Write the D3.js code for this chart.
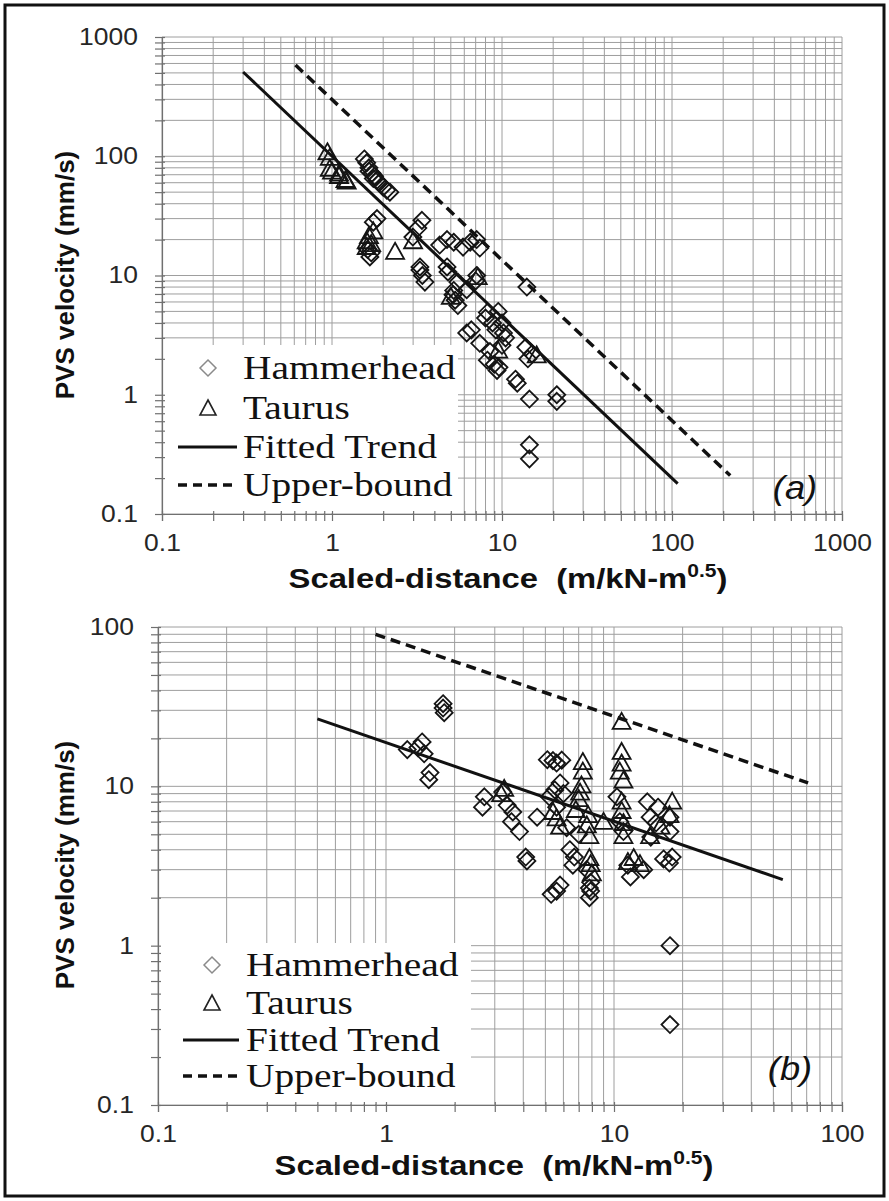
<!DOCTYPE html>
<html lang="en">
<head>
<meta charset="UTF-8">
<title>PVS velocity vs scaled distance</title>
<script src="https://d3js.org/d3.v7.min.js"></script>
<style>
  body { margin: 0; background: #fff; }
  .grid line { stroke: #9e9e9e; stroke-width: 1; }
  .axis path, .axis line { stroke: #707070; stroke-width: 1.2; }
  .axis text { font-family: "Liberation Sans", Arial, sans-serif; font-size: 23px; fill: #262626; }
  .title { font-family: "Liberation Sans", Arial, sans-serif; font-weight: bold; fill: #111; }
  .legend-text { font-family: "Liberation Serif", "Times New Roman", serif; font-size: 34px; fill: #111; }
  .panel-tag { font-family: "Liberation Sans", Arial, sans-serif; font-style: italic; font-size: 33px; fill: #111; }
  .hammer { fill: none; stroke: #151515; stroke-width: 1.8; }
  .taurus { fill: none; stroke: #151515; stroke-width: 1.8; }
</style>
</head>
<body>
<svg id="chart" width="889" height="1201"></svg>
<script>
  // ---- panel (a) data: [scaled distance, PVS]
  var hammerA = [
    [1.55,95],[1.6,88],[1.65,80],[1.72,72],[1.78,68],[1.84,63],[1.9,60],[2.0,55],[2.1,52],[2.19,50],[1.65,75],[1.75,65],
    [1.84,30],[1.75,28],[1.7,15.5],[1.67,14.3],[1.62,16.5],
    [2.99,21],[3.38,29],[3.2,25],[3.29,11.8],[3.29,11.1],[3.52,8.8],[3.4,10],
    [4.75,20],[4.3,18],[5.2,19],[5.9,17.3],[6.5,19],[7.1,20],[7.4,17],
    [4.75,11.8],[4.81,10.7],[5.5,8.8],[5.15,6.9],[5.3,6.2],[5.5,5.6],[5.2,7.5],[6.2,7.6],[7.1,10],[7.0,9],
    [8.2,4.9],[8.0,4.4],[8.8,4.0],[9.2,3.5],[9.5,5.0],[10.0,4.0],[10.2,3.3],
    [6.2,3.3],[6.6,3.5],[7.4,2.7],[8.5,2.3],[8.2,1.95],[9.35,1.6],[9.0,1.8],[9.6,1.7],[10,2.6],[10.5,3.0],
    [12,1.35],[12.3,1.25],[13.8,2.5],[14.2,2.0],[15,2.2],
    [14,8],[14.5,0.92],[14.5,0.38],[14.5,0.29],[21,1.0],[21,0.88]
  ];
  var taurusA = [
    [0.94,106],[0.97,95],[0.97,77],[1.0,73],[1.1,67],[1.2,62],[1.22,60],[1.1,70],
    [1.6,19],[1.65,21],[1.75,23],[1.6,17],[2.35,15.5],[1.7,18],
    [3.0,19],[5.0,6.5],[7.2,9.5],[9.5,2.3],[16,2.1]
  ];
  var trendA = [[0.3, 509], [108, 0.18]];
  var upperA = [[0.61, 582], [220, 0.21]];
  var xTicksA = [0.1, 1, 10, 100, 1000];
  var yTicksA = [0.1, 1, 10, 100, 1000];

  // ---- panel (b) data
  var hammerB = [
    [1.78,33],[1.78,31],[1.8,29],[1.24,17],[1.44,19],[1.38,17.5],[1.47,16],[1.56,12.2],[1.54,11],
    [2.7,8.6],[2.65,7.4],[3.25,9.2],[3.4,7.6],[3.6,6.9],[3.55,6.0],[3.85,5.2],[4.1,3.6],[4.15,3.4],[4.6,6.4],
    [5.1,14.7],[5.4,14.5],[5.6,14],[5.9,14.6],[5.5,9.5],[5.8,10.5],[5.2,8.6],[5.6,7.4],[6.0,9],
    [5.3,2.1],[5.6,2.2],[5.8,2.4],
    [6.4,4.0],[6.7,3.6],[6.6,3.2],[6.2,5.5],[7.0,5.0],
    [7.8,2.3],[7.9,2.2],[7.8,2.0],[7.9,2.5],[7.6,3.0],
    [10.3,8.6],[10.6,6.0],[11,5.2],[11.5,3.2],[11.8,2.7],
    [14,8.0],[15.6,7.4],[14.4,6.4],[15.3,5.9],[16.5,3.5],[17.5,3.3],[17.6,6.4],[17.6,5.2],[18,3.6],
    [13.5,3],[14.5,4.8],
    [17.6,1.0],[17.6,0.32]
  ];
  var taurusB = [
    [3.3,9.5],[3.2,8.8],
    [5.6,6.2],[5.8,5.5],[5.4,6.8],
    [7.3,14],[7.3,12.2],[7.2,10],[7.1,9],[7.0,8.2],[6.8,7],
    [7.6,5.6],[7.8,4.8],[7.8,3.5],[7.9,3.2],[8.0,2.8],[9,5.9],[7.7,6.5],
    [10.8,25],[10.8,16.2],[10.8,13.7],[10.6,12.2],[11,10.7],[10.8,7.9],[10.8,6.9],[11,5.8],[11,4.8],
    [11.5,3.3],[12.2,3.5],[13,3.2],
    [18,7.9],[17.5,6.5],[14.4,4.8],[16,5.5]
  ];
  var trendB = [[0.5, 26.5], [55, 2.6]];
  var upperB = [[0.9, 90], [71, 10.5]];
  var xTicksB = [0.1, 1, 10, 100];
  var yTicksB = [0.1, 1, 10, 100];

  var legendNames = ["Hammerhead", "Taurus", "Fitted Trend", "Upper-bound"];

  var svg = d3.select("#chart");
  var diamond = "M0,-8.5L8.5,0L0,8.5L-8.5,0Z";
  var triangle = "M0,-10L9,6L-9,6Z";

  // outer frame
  svg.append("rect")
    .attr("x", 5).attr("y", 5).attr("width", 879).attr("height", 1191)
    .attr("fill", "none").attr("stroke", "#111").attr("stroke-width", 3);

  function stretched(parent, x, y, str, cls, sx) {
    return parent.append("text")
      .attr("class", cls)
      .attr("transform", "translate(" + x + "," + y + ") scale(" + sx + ",1)")
      .text(str);
  }

  function drawPanel(p) {
    var x = d3.scaleLog().domain([p.xTicks[0], p.xTicks[p.xTicks.length - 1]]).range([p.left, p.right]);
    var y = d3.scaleLog().domain([p.yTicks[0], p.yTicks[p.yTicks.length - 1]]).range([p.bottom, p.top]);
    var g = svg.append("g");

    // grid (every 1..9 multiple)
    var grid = g.append("g").attr("class", "grid");
    grid.selectAll(".gx").data(x.ticks()).enter().append("line")
      .attr("x1", function(d) { return x(d); }).attr("x2", function(d) { return x(d); })
      .attr("y1", p.top).attr("y2", p.bottom);
    grid.selectAll(".gy").data(y.ticks()).enter().append("line")
      .attr("y1", function(d) { return y(d); }).attr("y2", function(d) { return y(d); })
      .attr("x1", p.left).attr("x2", p.right);

    // legend background hides the grid
    g.append("rect")
      .attr("x", p.left + 1).attr("y", p.legTop)
      .attr("width", p.legRight - p.left - 1).attr("height", p.bottom - p.legTop - 1)
      .attr("fill", "#fff");

    // minor ticks
    var xMinor = g.append("g").attr("class", "axis")
      .attr("transform", "translate(0," + p.bottom + ")")
      .call(d3.axisBottom(x).tickValues(x.ticks()).tickSize(7).tickFormat(""));
    xMinor.selectAll("line").attr("y1", -3);
    var yMinor = g.append("g").attr("class", "axis")
      .attr("transform", "translate(" + p.left + ",0)")
      .call(d3.axisLeft(y).tickValues(y.ticks()).tickSize(7).tickFormat(""));
    yMinor.selectAll("line").attr("x1", 3);

    // labelled axes
    var xAxis = g.append("g").attr("class", "axis")
      .attr("transform", "translate(0," + p.bottom + ")")
      .call(d3.axisBottom(x).tickValues(p.xTicks).tickSize(0).tickFormat(function(d) { return String(d); }));
    xAxis.select(".domain").remove();
    xAxis.selectAll("text").attr("y", 21).attr("transform", "scale(1.15,1)");
    var yAxis = g.append("g").attr("class", "axis")
      .attr("transform", "translate(" + p.left + ",0)")
      .call(d3.axisLeft(y).tickValues(p.yTicks).tickSize(0).tickFormat(function(d) { return String(d); }));
    yAxis.select(".domain").remove();
    yAxis.selectAll("text").attr("x", -21).attr("transform", "scale(1.15,1)");

    // fitted trend and upper bound
    var line = d3.line().x(function(d) { return x(d[0]); }).y(function(d) { return y(d[1]); });
    g.append("path").datum(p.trend).attr("d", line)
      .attr("fill", "none").attr("stroke", "#111").attr("stroke-width", 3);
    g.append("path").datum(p.upper).attr("d", line)
      .attr("fill", "none").attr("stroke", "#111").attr("stroke-width", 3.5)
      .attr("stroke-dasharray", "10,6");

    // scatter
    g.selectAll(".hammer").data(p.hammer).enter().append("path")
      .attr("class", "hammer").attr("d", diamond)
      .attr("transform", function(d) { return "translate(" + x(d[0]) + "," + y(d[1]) + ")"; });
    g.selectAll(".taurus").data(p.taurus).enter().append("path")
      .attr("class", "taurus").attr("d", triangle)
      .attr("transform", function(d) { return "translate(" + x(d[0]) + "," + y(d[1]) + ")"; });

    // legend
    var L = p.leg;
    g.append("path").attr("d", "M0,-8L8,0L0,8L-8,0Z")
      .attr("transform", "translate(" + L.mx + "," + L.rows[0] + ")")
      .attr("fill", "none").attr("stroke", "#8a8a8a").attr("stroke-width", 1.5);
    g.append("path").attr("d", "M0,-9L8,6L-8,6Z")
      .attr("transform", "translate(" + L.mx + "," + (L.rows[1] + 1) + ")")
      .attr("fill", "none").attr("stroke", "#222").attr("stroke-width", 1.6);
    g.append("line").attr("x1", L.lx1).attr("x2", L.lx2).attr("y1", L.rows[2]).attr("y2", L.rows[2])
      .attr("stroke", "#111").attr("stroke-width", 3);
    g.append("line").attr("x1", L.lx1).attr("x2", L.lx2).attr("y1", L.rows[3]).attr("y2", L.rows[3])
      .attr("stroke", "#111").attr("stroke-width", 3.5).attr("stroke-dasharray", "9,6");
    legendNames.forEach(function(name, i) {
      stretched(g, L.tx, L.rows[i] + 11, name, "legend-text", 1.16);
    });

    // panel tag
    stretched(g, p.tag[0], p.tag[1], p.tagText, "panel-tag", 1.1).attr("text-anchor", "middle");

    // axis titles
    var xt = g.append("text").attr("class", "title")
      .attr("transform", "translate(" + p.xTitle[0] + "," + p.xTitle[1] + ") scale(1.17,1)")
      .attr("text-anchor", "middle").attr("font-size", 28);
    xt.append("tspan").text("Scaled-distance\u00a0\u00a0(m/kN-m");
    xt.append("tspan").attr("font-size", 18).attr("dy", -11).text("0.5");
    xt.append("tspan").attr("dy", 11).text(")");

    g.append("text").attr("class", "title")
      .attr("transform", "translate(" + p.yTitle[0] + "," + p.yTitle[1] + ") rotate(-90)")
      .attr("text-anchor", "middle").attr("font-size", 26)
      .text("PVS velocity (mm/s)");
  }

  drawPanel({
    left: 162, right: 842, top: 37, bottom: 514,
    xTicks: xTicksA, yTicks: yTicksA,
    hammer: hammerA, taurus: taurusA, trend: trendA, upper: upperA,
    legTop: 345, legRight: 458,
    leg: { mx: 208, lx1: 178, lx2: 237, tx: 243, rows: [368, 408, 447, 485] },
    tag: [795, 499], tagText: "(a)",
    xTitle: [508, 588], yTitle: [74, 275]
  });

  drawPanel({
    left: 158, right: 842, top: 627, bottom: 1105,
    xTicks: xTicksB, yTicks: yTicksB,
    hammer: hammerB, taurus: taurusB, trend: trendB, upper: upperB,
    legTop: 943, legRight: 471,
    leg: { mx: 212, lx1: 183, lx2: 239, tx: 246, rows: [965, 1003, 1040, 1076] },
    tag: [790, 1080], tagText: "(b)",
    xTitle: [494, 1175], yTitle: [74, 865]
  });
</script>
</body>
</html>
